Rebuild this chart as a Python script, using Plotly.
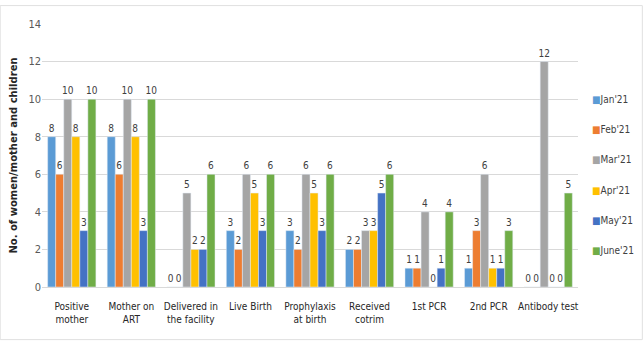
import plotly.graph_objects as go

categories = ["Positive<br>mother", "Mother on<br>ART", "Delivered in<br>the facility", "Live Birth",
              "Prophylaxis<br>at birth", "Received<br>cotrim", "1st PCR", "2nd PCR", "Antibody test"]
series_names = ["Jan'21", "Feb'21", "Mar'21", "Apr'21", "May'21", "June'21"]
jan = [8, 8, 0, 3, 3, 2, 1, 1, 0]
feb = [6, 6, 0, 2, 2, 2, 1, 3, 0]
mar = [10, 10, 5, 6, 6, 3, 4, 6, 12]
apr = [8, 8, 2, 5, 5, 3, 0, 1, 0]
may = [3, 3, 2, 3, 3, 5, 1, 1, 0]
june = [10, 10, 6, 6, 6, 6, 4, 3, 5]
colors = ["#5B9BD5", "#ED7D31", "#A5A5A5", "#FFC000", "#4472C4", "#70AD47"]
y_ticks = [0, 2, 4, 6, 8, 10, 12, 14]

font_family = "DejaVu Sans Condensed, Liberation Sans Narrow, sans-serif"

fig = go.Figure()
for name, vals, col in zip(series_names, [jan, feb, mar, apr, may, june], colors):
    fig.add_trace(go.Bar(
        name=name, x=categories, y=vals, marker_color=col,
        text=[str(v) for v in vals], textposition="outside", constraintext="none",
        textfont=dict(size=10, color="#404040", family=font_family),
        cliponaxis=False, showlegend=False,
    ))

# legend drawn as annotations so the plot area keeps its width
L, R, T, B = 42, 66, 24, 61
W, H = 644, 348
pw, ph = W - L - R, H - T - B
for i, (name, col) in enumerate(zip(series_names, colors)):
    ypix = 99 + i * 30.4
    fig.add_annotation(
        xref="paper", yref="paper", x=(590 - L) / pw, y=(H - B - ypix) / ph,
        xanchor="left", yanchor="middle", showarrow=False,
        text=f"<span style='color:{col}'>■</span>{name}",
        font=dict(size=10, color="#404040", family=font_family),
    )

fig.update_layout(
    width=W, height=H,
    margin=dict(l=L, r=R, t=T, b=B),
    barmode="group", bargap=0.19, bargroupgap=0,
    plot_bgcolor="white", paper_bgcolor="white",
    font=dict(family=font_family, size=10, color="#404040"),
    showlegend=False,
)
fig.update_yaxes(range=[0, 14], tickvals=y_ticks, showgrid=True, gridcolor="#D9D9D9",
                 zeroline=False, showline=False, ticks="",
                 tickfont=dict(size=11, color="#595959", family=font_family),
                 title=dict(text="<b>No. of women/mother and children</b>",
                            font=dict(size=10, color="#262626", family="DejaVu Sans"), standoff=8))
fig.update_xaxes(showline=True, linecolor="#D9D9D9", ticks="",
                 tickfont=dict(size=10, color="#262626", family=font_family),
                 tickangle=0, ticklabelstandoff=10)
fig.add_shape(type="rect", xref="paper", yref="paper", x0=-0.078, x1=1.12, y0=-0.2, y1=1.07,
              line=dict(color="#E0E0E0", width=1), layer="below")
fig.write_html("out.html")
